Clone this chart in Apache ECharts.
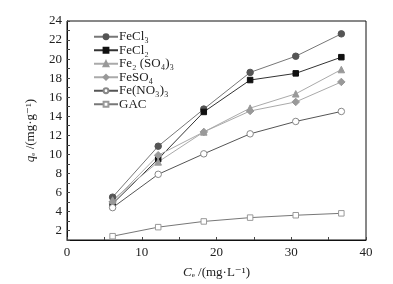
<!DOCTYPE html>
<html>
<head>
<meta charset="utf-8">
<script src="https://cdn.jsdelivr.net/npm/echarts@6/dist/echarts.min.js"></script>
<style>
  html, body { margin: 0; padding: 0; background: #fff; }
  #main { width: 393px; height: 284px; }
</style>
</head>
<body>
<div id="main"></div>
<script>
// 横坐标 Ce
const ce = [6.1, 12.2, 18.3, 24.5, 30.6, 36.7];
// 吸附量 qe
const names = ['FeCl₃', 'FeCl₂', 'Fe₂ (SO₄)₃', 'FeSO₄', 'Fe(NO₃)₃', 'GAC'];
const feCl3 = [5.5, 10.85, 14.75, 18.6, 20.3, 22.65];
const feCl2 = [4.8, 9.5, 14.45, 17.8, 18.5, 20.2];
const fe2so43 = [5.2, 9.2, 12.35, 14.85, 16.35, 18.9];
const feSO4 = [5.0, 9.9, 12.35, 14.55, 15.5, 17.6];
const feNO33 = [4.4, 7.9, 10.05, 12.15, 13.45, 14.5];
const gac = [1.4, 2.35, 2.95, 3.35, 3.6, 3.8];

const font = '"Liberation Serif", "DejaVu Serif", serif';

function pairs(arr) {
  return arr.map(function (v, i) { return [ce[i], v]; });
}

function mk(name, data, symbol, fill, stroke, lineColor, size) {
  return {
    name: name,
    type: 'line',
    data: pairs(data),
    symbol: symbol,
    symbolSize: size,
    itemStyle: { color: fill, borderColor: stroke, borderWidth: 1 },
    lineStyle: { color: lineColor, width: 1 }
  };
}

const chart = echarts.init(document.getElementById('main'));
chart.setOption({
  animation: false,
  backgroundColor: '#fff',
  textStyle: { fontFamily: font },
  grid: { left: 67, right: 27, top: 21, bottom: 41, show: true, borderColor: '#111', borderWidth: 1 },
  legend: {
    orient: 'vertical',
    left: 88,
    top: 25,
    itemWidth: 24,
    itemHeight: 6,
    itemGap: 0,
    data: names,
    textStyle: { fontFamily: font, fontSize: 13, color: '#222', lineHeight: 13.5, padding: [0, 0, 0, -4] }
  },
  xAxis: {
    type: 'value',
    min: 0, max: 40, interval: 5,
    name: '{i|C}{s|ₑ} /(mg·L⁻¹)',
    nameLocation: 'middle',
    nameGap: 26,
    nameTextStyle: {
      fontFamily: font, fontSize: 13, color: '#222',
      rich: { i: { fontStyle: 'italic', fontFamily: font, fontSize: 13, color: '#222' }, s: { fontFamily: font, fontSize: 12, color: '#222' } }
    },
    axisLine: { lineStyle: { color: '#111' } },
    axisTick: { inside: true, length: 3, lineStyle: { color: '#444' } },
    axisLabel: {
      fontFamily: font, fontSize: 13, color: '#222', margin: 6,
      formatter: function (v) { return v % 10 === 0 ? v : ''; }
    },
    splitLine: { show: false }
  },
  yAxis: {
    type: 'value',
    min: 1, max: 24, interval: 1,
    name: '{i|q}{s|ₑ} /(mg·g⁻¹)',
    nameLocation: 'middle',
    nameGap: 30,
    nameRotate: 90,
    nameTextStyle: {
      fontFamily: font, fontSize: 13, color: '#222',
      rich: { i: { fontStyle: 'italic', fontFamily: font, fontSize: 13, color: '#222' }, s: { fontFamily: font, fontSize: 12, color: '#222' } }
    },
    axisLine: { lineStyle: { color: '#111' } },
    axisTick: { inside: true, length: 3, lineStyle: { color: '#444' } },
    axisLabel: {
      fontFamily: font, fontSize: 13, color: '#222', margin: 5,
      formatter: function (v) { return v % 2 === 0 ? v : ''; }
    },
    splitLine: { show: false }
  },
  series: [
    mk(names[0], feCl3, 'circle', '#555', '#555', '#777', 6.5),
    mk(names[1], feCl2, 'rect', '#111', '#111', '#333', 5.5),
    mk(names[2], fe2so43, 'triangle', '#999', '#999', '#aaa', 6.5),
    mk(names[3], feSO4, 'diamond', '#999', '#999', '#aaa', 7.5),
    mk(names[4], feNO33, 'circle', '#fff', '#888', '#555', 6.5),
    mk(names[5], gac, 'rect', '#fff', '#999', '#777', 5.5)
  ]
});
</script>
</body>
</html>
